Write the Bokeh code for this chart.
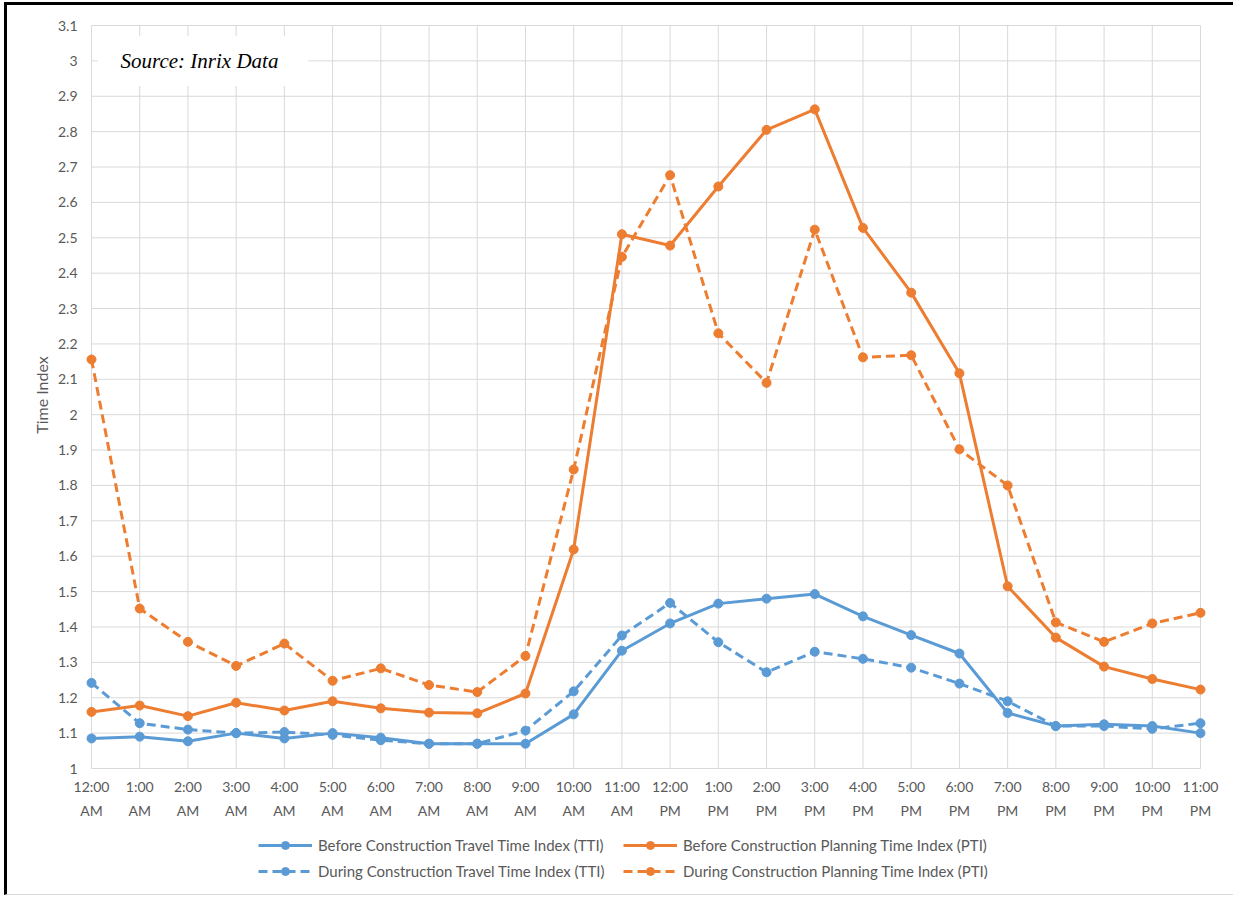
import math
from bokeh.plotting import figure
from bokeh.models import Range1d, Legend, LegendItem, Label
from bokeh.core.properties import value
from bokeh.embed import file_html
from bokeh.resources import INLINE

# Hour-of-day categories
hours = ["12:00\nAM", "1:00\nAM", "2:00\nAM", "3:00\nAM", "4:00\nAM", "5:00\nAM",
         "6:00\nAM", "7:00\nAM", "8:00\nAM", "9:00\nAM", "10:00\nAM", "11:00\nAM",
         "12:00\nPM", "1:00\nPM", "2:00\nPM", "3:00\nPM", "4:00\nPM", "5:00\nPM",
         "6:00\nPM", "7:00\nPM", "8:00\nPM", "9:00\nPM", "10:00\nPM", "11:00\nPM"]

before_tti = [1.085, 1.09, 1.077, 1.10, 1.085, 1.10, 1.087, 1.07, 1.07, 1.07, 1.153, 1.333,
              1.41, 1.466, 1.48, 1.493, 1.43, 1.377, 1.325, 1.157, 1.12, 1.125, 1.12, 1.10]
during_tti = [1.242, 1.128, 1.11, 1.10, 1.103, 1.095, 1.08, 1.07, 1.07, 1.107, 1.218, 1.376,
              1.468, 1.357, 1.272, 1.33, 1.31, 1.285, 1.24, 1.19, 1.12, 1.12, 1.112, 1.128]
before_pti = [1.16, 1.178, 1.148, 1.186, 1.164, 1.19, 1.17, 1.158, 1.156, 1.212, 1.619, 2.51,
              2.478, 2.645, 2.805, 2.863, 2.528, 2.345, 2.117, 1.515, 1.37, 1.288, 1.253, 1.223]
during_pti = [2.156, 1.452, 1.358, 1.29, 1.353, 1.248, 1.283, 1.236, 1.216, 1.318, 1.845, 2.446,
              2.677, 2.23, 2.09, 2.523, 2.162, 2.168, 1.902, 1.80, 1.413, 1.358, 1.41, 1.44]

y_ticks = [1.0, 1.1, 1.2, 1.3, 1.4, 1.5, 1.6, 1.7, 1.8, 1.9, 2.0,
           2.1, 2.2, 2.3, 2.4, 2.5, 2.6, 2.7, 2.8, 2.9, 3.0, 3.1]
y_tick_labels = ["1", "1.1", "1.2", "1.3", "1.4", "1.5", "1.6", "1.7", "1.8", "1.9", "2",
                 "2.1", "2.2", "2.3", "2.4", "2.5", "2.6", "2.7", "2.8", "2.9", "3", "3.1"]
y_min, y_max = y_ticks[0], y_ticks[-1]

BLUE = "#5B9BD5"
ORANGE = "#ED7D31"
GRID = "#D9D9D9"
TEXT = "#595959"
FONT = "Lato"

x = list(range(len(hours)))
n = len(hours)

# Canvas geometry (pixels). The frame covers the whole canvas so that the
# tick labels, axis title and legend can all be drawn inside it.
W, H = 1229, 893
PLOT_L, PLOT_R = 84, 1193     # x of first / last hour
PLOT_T, PLOT_B = 20, 763      # y of 3.1 / 1.0
sx = (PLOT_R - PLOT_L) / (n - 1)
sy = (PLOT_B - PLOT_T) / (y_max - y_min)
x_range = Range1d(0 - PLOT_L / sx, (n - 1) + (W - PLOT_R) / sx)
y_range = Range1d(y_min - (H - PLOT_B) / sy, y_max + PLOT_T / sy)

p = figure(width=W, height=H, output_backend="svg", toolbar_location=None,
           x_range=x_range, y_range=y_range,
           x_axis_location=None, y_axis_location=None,
           min_border_left=0, min_border_right=0, min_border_top=0,
           min_border_bottom=0)
p.styles = {"border-left": "3px solid black", "border-top": "3px solid black",
            "border-bottom": "1px solid #d9d9d9", "margin-left": "4px",
            "margin-top": "2px"}
p.outline_line_color = None
p.background_fill_color = "white"
p.border_fill_color = "white"
p.xgrid.visible = False
p.ygrid.visible = False

# grid
p.segment(x0=[0] * len(y_ticks), y0=y_ticks, x1=[n - 1] * len(y_ticks), y1=y_ticks,
          line_color=GRID, line_width=1)
p.segment(x0=x, y0=[y_min] * n, x1=x, y1=[y_max] * n, line_color=GRID, line_width=1)

# value tick labels and title
p.text(x=[0] * len(y_ticks), y=y_ticks, text=y_tick_labels, text_align="right",
       text_baseline="middle", x_offset=-14, text_font=value(FONT),
       text_font_size="14px", text_color=TEXT)
p.text(x=[0], y=[(y_min + y_max) / 2], text=["Time Index"], angle=math.pi / 2,
       text_align="center", text_baseline="middle", x_offset=-50, y_offset=-2,
       text_font=value(FONT), text_font_size="16px", text_color=TEXT)

# hour labels under the value band
p.text(x=x, y=[y_min] * n, text=hours, text_align="center",
       text_baseline="top", y_offset=9, text_font=value(FONT),
       text_font_size="14px", text_color=TEXT, text_line_height=1.45)

series = [
    ("Before Construction Travel Time Index (TTI)", before_tti, BLUE, "solid"),
    ("During Construction Travel Time Index (TTI)", during_tti, BLUE, "9 5"),
    ("Before Construction Planning Time Index (PTI)", before_pti, ORANGE, "solid"),
    ("During Construction Planning Time Index (PTI)", during_pti, ORANGE, "9 5"),
]

items = []
for name, ys, color, dash in series:
    ln = p.line(x, ys, line_color=color, line_width=3, line_dash=dash)
    mk = p.scatter(x, ys, size=9, fill_color=color, line_color=color)
    items.append(LegendItem(label=name, renderers=[ln, mk]))

legend = Legend(items=items, orientation="vertical", nrows=2,
                location=(251, 17), padding=0, margin=0, spacing=6,
                glyph_width=54, glyph_height=20, label_standoff=6,
                label_width=299,
                label_text_font=FONT, label_text_font_size="15px",
                label_text_color=TEXT, border_line_color=None,
                background_fill_alpha=0)
p.add_layout(legend, "center")

# Attribution box in the upper-left corner of the plot
src = Label(x=0.125, y=3.0, text="Source: Inrix Data", text_font="Liberation Serif",
            text_font_style="italic", text_font_size="21px", text_color="black",
            text_baseline="middle", background_fill_color="white",
            padding=(23, 30, 13, 13))
p.add_layout(src)

open("out.html", "w").write(file_html(p, INLINE))
